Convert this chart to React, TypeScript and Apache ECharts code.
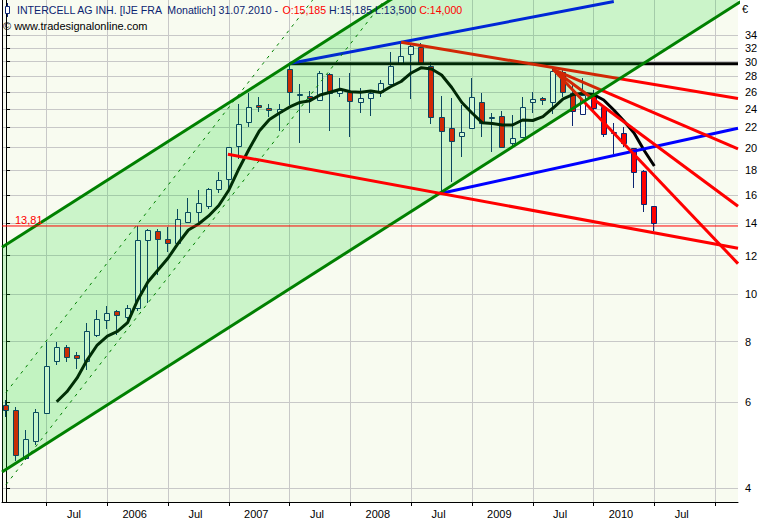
import React, { useEffect, useRef } from 'react';
import * as echarts from 'echarts';

// Monthly candles, index 0 = Mar 2005 ... index 64 = Jul 2010
const openP = [5.93, 5.78, 4.61, 5.01, 5.72, 7.31, 7.81, 7.50, 7.31, 8.25, 8.86, 9.26, 8.97, 9.36, 12.91, 13.50, 12.97, 12.73, 14.09, 14.77, 15.20, 16.42, 17.22, 20.15, 22.54, 24.42, 24.15, 23.69, 28.95, 25.60, 25.52, 25.04, 28.28, 25.85, 26.04, 24.77, 25.32, 25.97, 27.00, 29.78, 31.08, 32.21, 29.45, 23.07, 21.91, 21.16, 21.91, 24.77, 23.00, 23.25, 20.41, 21.05, 24.77, 25.24, 24.77, 28.54, 25.92, 23.44, 25.75, 24.26, 21.40, 21.40, 19.93, 17.93, 15.185];
const highP = [6.07, 5.88, 5.27, 5.81, 7.97, 7.99, 7.87, 7.63, 8.75, 9.29, 9.48, 9.30, 9.51, 13.81, 13.60, 13.60, 13.76, 14.96, 15.74, 16.37, 16.50, 17.85, 20.10, 24.54, 25.85, 25.36, 24.54, 24.54, 29.80, 27.00, 26.13, 28.72, 28.40, 27.75, 28.41, 26.46, 26.00, 27.52, 31.37, 32.73, 32.73, 32.80, 29.92, 25.52, 25.24, 24.46, 27.75, 25.85, 23.52, 23.80, 23.33, 25.36, 25.97, 25.43, 28.95, 28.90, 27.10, 27.75, 26.20, 24.30, 22.43, 22.00, 20.00, 18.00, 15.185];
const lowP = [5.61, 4.56, 4.58, 4.91, 5.70, 7.16, 7.25, 7.02, 6.99, 8.16, 8.49, 8.25, 8.79, 9.26, 9.59, 10.96, 12.23, 12.65, 14.00, 14.09, 14.96, 16.16, 16.37, 18.92, 22.07, 23.63, 23.14, 21.66, 24.46, 20.47, 23.58, 24.90, 21.66, 25.43, 21.05, 23.58, 23.22, 25.43, 26.90, 29.60, 25.12, 29.50, 22.36, 16.12, 17.02, 19.16, 21.80, 21.05, 19.61, 19.93, 19.93, 20.90, 23.52, 24.46, 23.44, 25.43, 22.15, 23.30, 23.80, 21.00, 19.36, 20.08, 16.50, 14.77, 13.50];
const closeP = [5.78, 4.67, 5.04, 5.74, 7.14, 7.81, 7.45, 7.39, 8.41, 8.89, 9.14, 9.07, 9.36, 12.91, 13.55, 12.97, 12.73, 14.25, 14.77, 15.42, 16.42, 17.16, 20.03, 22.33, 24.26, 24.19, 23.85, 23.96, 25.97, 25.70, 25.32, 28.41, 25.92, 26.34, 24.92, 25.24, 25.85, 27.10, 29.45, 30.83, 32.36, 29.78, 23.07, 21.63, 20.63, 21.50, 25.43, 22.50, 23.10, 20.08, 20.96, 24.26, 25.20, 25.00, 28.76, 26.04, 23.77, 25.64, 24.08, 21.30, 21.50, 20.41, 17.80, 15.32, 14.00];

// 6-month moving average, starting at candle index 5
const maFirstIndex = 5;
const maValues = [6.02, 6.31, 6.73, 7.33, 7.87, 8.21, 8.39, 8.75, 9.74, 10.60, 11.22, 11.87, 12.73, 13.55, 13.94, 14.48, 15.21, 16.37, 18.12, 19.87, 21.63, 22.84, 23.55, 24.23, 24.75, 24.96, 25.64, 25.97, 26.34, 26.04, 25.97, 26.13, 25.94, 26.69, 27.33, 28.45, 29.17, 28.99, 28.18, 26.56, 24.75, 23.55, 22.50, 22.41, 22.25, 22.25, 22.78, 22.73, 23.16, 24.11, 25.16, 25.70, 25.85, 25.70, 25.04, 23.89, 22.68, 21.43, 19.73, 18.33];

// Trend lines: [candle index, price]
const channelLower = [[-0.4, 4.32], [72.5, 39.83]];
const channelUpper = [[-0.4, 12.49], [72.5, 115.2]];
const dashedUpper = [[0, 6.29], [45, 99.0]];
const dashedLower = [[0, 4.07], [45, 64.06]];
const blueUpper = [[28, 29.75], [60, 39.86]];
const blueLower = [[43, 16.12], [72.26, 21.92]];
const blackLevel = [[28, 29.7], [72.26, 29.7]];
const redSupport = [[21.9, 19.38], [72.26, 12.43]];
const redResist = [[39, 32.9], [72.26, 25.22]];
const redFan1 = [[54, 28.95], [72.26, 19.88]];
const redFan2 = [[54, 28.95], [72.26, 15.16]];
const redFan3 = [[54, 28.95], [72.26, 11.56]];
const markLevel = 13.81;

const yTicks = [4, 6, 8, 10, 12, 14, 16, 18, 20, 22, 24, 26, 28, 30, 32, 34];
const xTickIdx = [4, 10, 16, 22, 28, 34, 40, 46, 52, 58, 64, 70];
const xLabels = ['Jul', '2006', 'Jul', '2007', 'Jul', '2008', 'Jul', '2009', 'Jul', '2010', 'Jul'];

const X_MIN = -0.4;
const X_MAX = 72.26;
const Y_MIN = 3.749;
const Y_MAX = 40.16;

const NAVY = '#0B2470';
const RED = '#FF0000';
const GREEN = '#008000';
const FONT = 'Liberation Sans';
const LABEL_SHIFT = 2.7;

const L = Math.log;

function lineSeries(pts: number[][], color: string, width: number, z: number, dashed = false) {
  return {
    type: 'line',
    data: pts.map((p) => [p[0], L(p[1])]),
    showSymbol: false,
    symbol: 'none',
    silent: true,
    clip: true,
    z,
    lineStyle: { color, width, type: dashed ? [3, 5] : 'solid', cap: 'butt' },
  };
}

function bandSeries(upper: number[][], lower: number[][], fill: string, z: number) {
  return {
    type: 'custom',
    coordinateSystem: 'cartesian2d',
    clip: true,
    silent: true,
    z,
    data: [[upper[0][0], L(lower[0][1])]],
    encode: { x: 0, y: 1 },
    renderItem: (params: any, api: any) => {
      const pts = [upper[0], upper[1], lower[1], lower[0]].map((p) => api.coord([p[0], L(p[1])]));
      return { type: 'polygon', shape: { points: pts }, style: { fill } };
    },
  };
}

export default function App() {
  const ref = useRef<HTMLDivElement>(null);

  useEffect(() => {
    if (!ref.current) return;
    const chart = echarts.init(ref.current, undefined, { renderer: 'svg' });

    const candleData = openP.map((o, i) => [i, L(o), L(closeP[i]), L(lowP[i]), L(highP[i])]);
    const maData = maValues.map((v, i) => [maFirstIndex + i, L(v)]);
    const xLabelPos = xLabels.map((_, i) => xTickIdx[i] + LABEL_SHIFT);

    const option: any = {
      animation: false,
      backgroundColor: '#ffffff',
      grid: {
        left: 2,
        right: 31,
        top: 0,
        bottom: 18,
        show: true,
        backgroundColor: '#F8FBF0',
        borderWidth: 0,
      },
      xAxis: {
        type: 'value',
        min: X_MIN,
        max: X_MAX,
        position: 'bottom',
        axisLine: { show: true, onZero: false, lineStyle: { color: '#000', width: 1 } },
        axisTick: { show: true, customValues: xTickIdx, length: 4, lineStyle: { color: '#000' } },
        axisLabel: {
          customValues: xLabelPos,
          formatter: (v: number) => {
            const i = Math.round((v - xTickIdx[0] - LABEL_SHIFT) / 6);
            return xLabels[i] ?? '';
          },
          color: '#000',
          fontFamily: FONT,
          fontSize: 11,
          margin: 6,
        },
        splitLine: { show: true, lineStyle: { color: '#C8C8C8', width: 1 } },
      },
      yAxis: [
        {
          type: 'value',
          position: 'right',
          min: L(Y_MIN),
          max: L(Y_MAX),
          axisLine: { show: true, lineStyle: { color: '#000', width: 1 } },
          axisTick: { show: true, customValues: yTicks.map(L), length: 4, lineStyle: { color: '#000' } },
          axisLabel: {
            customValues: yTicks.map(L),
            formatter: (v: number) => String(Math.round(Math.exp(v))),
            color: '#000',
            fontFamily: FONT,
            fontSize: 11,
            margin: 7,
          },
          splitLine: { show: true, lineStyle: { color: '#C8C8C8', width: 1 } },
        },
        {
          type: 'value',
          position: 'left',
          min: L(Y_MIN),
          max: L(Y_MAX),
          axisLine: { show: true, lineStyle: { color: '#000', width: 1 } },
          axisTick: { show: false },
          axisLabel: { show: false },
          splitLine: { show: false },
        },
      ],
      series: [
        {
          type: 'custom',
          coordinateSystem: 'cartesian2d',
          z: 2,
          silent: true,
          data: candleData,
          encode: { x: 0, y: [1, 2, 3, 4] },
          renderItem: (params: any, api: any) => {
            const k = api.value(0);
            const o = api.value(1);
            const c = api.value(2);
            const lo = api.value(3);
            const hi = api.value(4);
            const pO = api.coord([k, o]);
            const pC = api.coord([k, c]);
            const pL = api.coord([k, lo]);
            const pH = api.coord([k, hi]);
            const xc = Math.round(pO[0]);
            const top = Math.round(Math.min(pO[1], pC[1])) + 0.5;
            const bot = Math.round(Math.max(pO[1], pC[1])) + 0.5;
            const up = c >= o;
            return {
              type: 'group',
              children: [
                {
                  type: 'line',
                  shape: { x1: xc - 0.5, y1: Math.round(pH[1]), x2: xc - 0.5, y2: Math.round(pL[1]) },
                  style: { stroke: NAVY, lineWidth: 1 },
                },
                {
                  type: 'rect',
                  shape: { x: xc - 2.5, y: top, width: 5, height: Math.max(bot - top, 1) },
                  style: { fill: up ? '#ffffff' : RED, stroke: NAVY, lineWidth: 1 },
                },
              ],
            };
          },
        },
        {
          type: 'line',
          data: maData,
          showSymbol: false,
          symbol: 'none',
          silent: true,
          z: 3,
          lineStyle: { color: '#000', width: 3, join: 'round' },
        },
        lineSeries(blackLevel, '#000', 3, 3),
        lineSeries(blueUpper, '#0000FF', 3, 3),
        lineSeries(blueLower, '#0000FF', 3, 3),
        lineSeries(redResist, RED, 3, 3),
        lineSeries(redFan1, RED, 3, 3),
        lineSeries(redFan2, RED, 3, 3),
        lineSeries(redFan3, RED, 3, 3),
        bandSeries(dashedUpper, dashedLower, 'rgba(0,215,30,0.045)', 4),
        bandSeries(channelUpper, channelLower, 'rgba(0,215,30,0.18)', 4),
        lineSeries(dashedUpper, GREEN, 1, 5, true),
        lineSeries(dashedLower, GREEN, 1, 5, true),
        lineSeries(channelUpper, GREEN, 3, 5),
        lineSeries(channelLower, GREEN, 3, 5),
        lineSeries(redSupport, RED, 3, 5),
        lineSeries([[X_MIN, markLevel], [X_MAX, markLevel]], RED, 1, 5),
      ],
      graphic: [
        {
          type: 'line',
          z: 100,
          shape: { x1: 7.5, y1: 3, x2: 7.5, y2: 17 },
          style: { stroke: NAVY, lineWidth: 1 },
        },
        {
          type: 'rect',
          z: 101,
          shape: { x: 5.5, y: 6.5, width: 4, height: 7 },
          style: { fill: '#ffffff', stroke: NAVY, lineWidth: 1 },
        },
        {
          type: 'text',
          z: 100,
          x: 17,
          y: 10,
          style: {
            text: '{n|INTERCELL AG INH. [IJE FRA \u00A0Monatlich] 31.07.2010 - }{r|O:15,185}{n| H:15,185 L:13,500 }{r|C:14,000}',
            font: '10.6px "Liberation Sans"',
            verticalAlign: 'middle',
            rich: {
              n: { fill: NAVY, color: NAVY, fontFamily: FONT, fontSize: 10.6 },
              r: { fill: RED, color: RED, fontFamily: FONT, fontSize: 10.6 },
            },
          },
        },
        {
          type: 'text',
          z: 100,
          x: 3,
          y: 26,
          style: {
            text: '© www.tradesignalonline.com',
            fill: '#000',
            font: '11px "Liberation Sans"',
            verticalAlign: 'middle',
          },
        },
        {
          type: 'text',
          z: 100,
          x: 15,
          y: 220,
          style: {
            text: '13,81',
            fill: RED,
            font: '11px "Liberation Sans"',
            verticalAlign: 'middle',
          },
        },
        {
          type: 'text',
          z: 100,
          x: 742,
          y: 9,
          style: {
            text: '€',
            fill: '#000',
            font: '11px "Liberation Sans"',
            verticalAlign: 'middle',
          },
        },
      ],
    };

    chart.setOption(option);
    return () => chart.dispose();
  }, []);

  return (
    <div
      ref={ref}
      style={{ position: 'fixed', left: 0, top: 0, width: 769, height: 520, background: '#ffffff' }}
    />
  );
}
